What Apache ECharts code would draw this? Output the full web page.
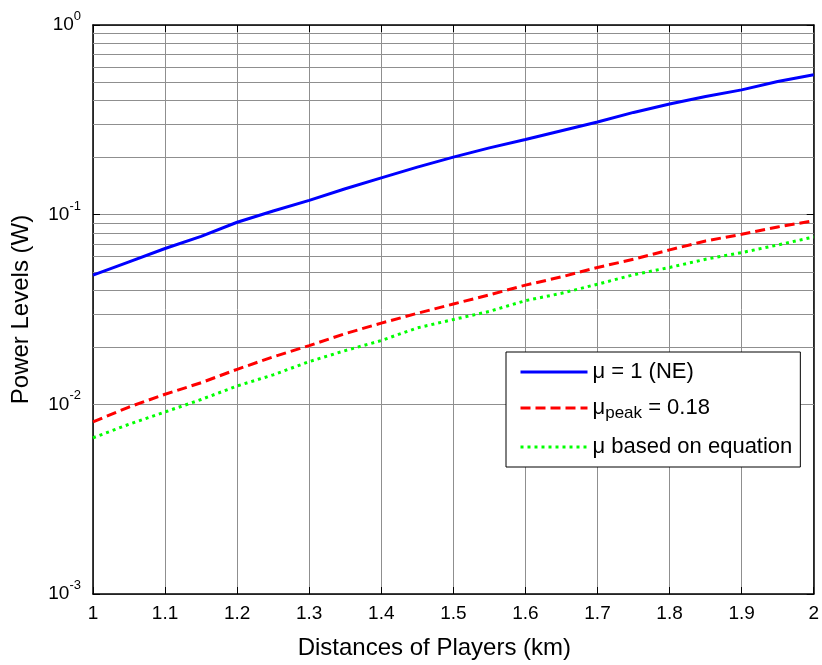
<!DOCTYPE html>
<html>
<head>
<meta charset="utf-8">
<script src="https://cdn.jsdelivr.net/npm/echarts@6/dist/echarts.min.js"></script>
<style>
html,body{margin:0;padding:0;background:#fff;}
#chart{width:822px;height:665px;}
</style>
</head>
<body>
<div id="chart"></div>
<script>
// Distances (km)
const distances = [1.00,1.05,1.10,1.15,1.20,1.25,1.30,1.35,1.40,1.45,1.50,1.55,1.60,1.65,1.70,1.75,1.80,1.85,1.90,1.95,2.00];
// Power levels (W)
const powerNE = [0.048,0.0564,0.0663,0.0768,0.0912,0.1045,0.119,0.137,0.1564,0.178,0.201,0.225,0.249,0.277,0.308,0.346,0.383,0.420,0.455,0.504,0.546];
const powerPeak = [0.00808,0.00968,0.0113,0.0130,0.0153,0.0178,0.0204,0.0236,0.0268,0.0302,0.0338,0.0378,0.0425,0.0470,0.0527,0.0582,0.0652,0.0727,0.0788,0.0861,0.0930];
const powerEq = [0.00666,0.00785,0.00912,0.0106,0.0125,0.0143,0.0168,0.0192,0.0217,0.0253,0.0280,0.0309,0.0352,0.0385,0.0430,0.0482,0.0527,0.0582,0.0631,0.0692,0.0763];
const seriesNames = ['μ = 1 (NE)', 'μpeak = 0.18', 'μ based on equation'];
const xTicks = [1,1.1,1.2,1.3,1.4,1.5,1.6,1.7,1.8,1.9,2];
const yDecades = [0.001,0.01,0.1,1];
const minorGridValues = [0.002,0.003,0.004,0.005,0.006,0.007,0.008,0.009,
  0.02,0.03,0.04,0.05,0.06,0.07,0.08,0.09,
  0.2,0.3,0.4,0.5,0.6,0.7,0.8,0.9];

const FONT = '"Liberation Sans", Arial, sans-serif';
const GRID = '#8f8f8f';

function pairs(xs, ys){ return xs.map((x,i)=>[x, ys[i]]); }

const chart = echarts.init(document.getElementById('chart'), null, {renderer:'canvas'});

const option = {
  animation:false,
  backgroundColor:'#fff',
  grid:{left:93, top:25, right:5, bottom:69, containLabel:false},
  legend:{
    orient:'vertical',
    left:506, top:352,
    backgroundColor:'#fff',
    borderColor:'#000', borderWidth:1,
    padding:[9,8,9,13],
    itemGap:14,
    itemWidth:67, itemHeight:14,
    itemStyle:{opacity:0},
    lineStyle:{width:3},
    data:seriesNames,
    formatter:function(name){
      if(name === seriesNames[1]) return '{n|μ}{s|peak}{n| = 0.18}';
      return '{n|' + name + '}';
    },
    textStyle:{
      fontFamily:FONT, fontSize:22, color:'#000',
      rich:{
        n:{fontFamily:FONT, fontSize:22, color:'#000', lineHeight:28, verticalAlign:'middle'},
        s:{fontFamily:FONT, fontSize:17, color:'#000', lineHeight:28, verticalAlign:'bottom'}
      }
    }
  },
  xAxis:[{
    type:'value', min:1, max:2, interval:0.1,
    position:'bottom',
    name:'Distances of Players (km)',
    nameLocation:'middle', nameGap:42,
    nameTextStyle:{fontFamily:FONT, fontSize:24, color:'#000', padding:[0,38,0,0]},
    axisLine:{show:true, onZero:false, lineStyle:{color:'#000', width:1.5}},
    axisTick:{show:true, inside:true, length:7, lineStyle:{color:'#000'}},
    axisLabel:{fontFamily:FONT, fontSize:19, color:'#000', margin:10,
      formatter:function(v){ return String(Math.round(v*10)/10); }},
    splitLine:{show:true, lineStyle:{color:GRID, width:1}}
  },{
    type:'value', min:1, max:2, interval:0.1,
    position:'top',
    axisLine:{show:true, onZero:false, lineStyle:{color:'#000', width:1.5}},
    axisTick:{show:true, inside:true, length:7, lineStyle:{color:'#000'}},
    axisLabel:{show:false},
    splitLine:{show:false}
  }],
  yAxis:[{
    type:'log', logBase:10, min:0.001, max:1,
    position:'left',
    name:'Power Levels (W)',
    nameLocation:'middle', nameGap:60,
    nameTextStyle:{fontFamily:FONT, fontSize:24, color:'#000'},
    axisLine:{show:true, onZero:false, lineStyle:{color:'#000', width:1.5}},
    axisTick:{show:true, inside:true, length:7, lineStyle:{color:'#000'}},
    axisLabel:{margin:12, align:'right',
      formatter:function(v){
        const e = Math.round(Math.log10(v));
        return '{b|10}{s|' + e + '}';
      },
      rich:{
        b:{fontFamily:FONT, fontSize:19, color:'#000', lineHeight:30, verticalAlign:'middle'},
        s:{fontFamily:FONT, fontSize:13, color:'#000', lineHeight:30, verticalAlign:'top'}
      }
    },
    splitLine:{show:true, lineStyle:{color:GRID, width:1}}
  },{
    type:'log', logBase:10, min:0.001, max:1,
    position:'right',
    axisLine:{show:true, onZero:false, lineStyle:{color:'#000', width:1.5}},
    axisTick:{show:true, inside:true, length:7, lineStyle:{color:'#000'}},
    axisLabel:{show:false},
    splitLine:{show:false}
  }],
  series:[
    {
      name:seriesNames[0], type:'line', xAxisIndex:0, yAxisIndex:0,
      data:pairs(distances, powerNE), symbol:'none', smooth:false,
      lineStyle:{color:'#0000ff', width:3, type:'solid'},
      itemStyle:{color:'#0000ff'},
      z:5,
      markLine:{
        silent:true, symbol:'none', label:{show:false},
        lineStyle:{color:GRID, width:1, type:'solid'},
        data:minorGridValues.map(v=>({yAxis:v})),
        z:1
      }
    },
    {
      name:seriesNames[1], type:'line', xAxisIndex:0, yAxisIndex:0,
      data:pairs(distances, powerPeak), symbol:'none',
      lineStyle:{color:'#ff0000', width:3, type:[10,5]},
      itemStyle:{color:'#ff0000'},
      z:5
    },
    {
      name:seriesNames[2], type:'line', xAxisIndex:0, yAxisIndex:0,
      data:pairs(distances, powerEq), symbol:'none',
      lineStyle:{color:'#00ff00', width:3, type:[3,4]},
      itemStyle:{color:'#00ff00'},
      z:5
    }
  ]
};
chart.setOption(option);
</script>
</body>
</html>
